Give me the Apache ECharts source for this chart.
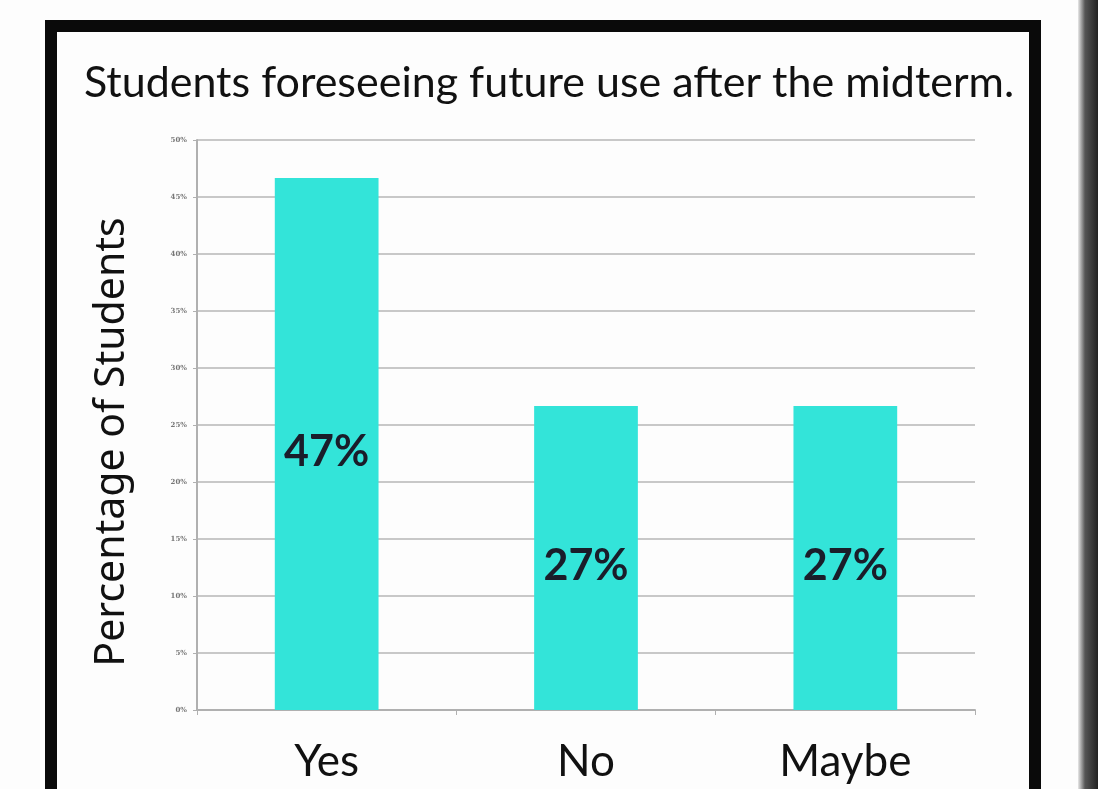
<!DOCTYPE html>
<html><head><meta charset="utf-8">
<script src="https://cdn.jsdelivr.net/npm/echarts@6/dist/echarts.min.js"></script>
<style>html,body{margin:0;padding:0;background:#fff}#c{width:1098px;height:789px}</style>
</head><body><div id="c"></div>
<script>
var categories = ['Yes', 'No', 'Maybe'];
var values = [46.67, 26.67, 26.67];
var valueLabels = ['47%', '27%', '27%'];
var titleText = 'Students foreseeing future use after the midterm.';
var yAxisName = 'Percentage of Students';

var chart = echarts.init(document.getElementById('c'), null, {renderer: 'canvas'});
chart.setOption({
  backgroundColor: '#fdfdfd',
  animation: false,
  title: {
    text: titleText, left: 'center', top: 57,
    textStyle: {fontFamily: 'Lato', fontSize: 43, fontWeight: 'normal', color: '#111'}
  },
  grid: {left: 197, right: 123, top: 140, bottom: 79},
  graphic: [
    {type: 'rect', shape: {x: 51, y: 26, width: 984, height: 800},
     style: {fill: 'none', stroke: '#0a0a0a', lineWidth: 12}, silent: true},
    {type: 'rect', shape: {x: 1078, y: 0, width: 20, height: 789},
     style: {fill: new echarts.graphic.LinearGradient(0, 0, 1, 0, [
       {offset: 0, color: '#e8e8e8'}, {offset: 0.35, color: '#555'}, {offset: 1, color: '#222'}])}, silent: true}
  ],
  xAxis: {
    type: 'category', data: categories,
    axisLine: {lineStyle: {color: '#b0b0b0', width: 2}},
    axisTick: {show: true, alignWithLabel: false, length: 5, lineStyle: {color: '#b0b0b0'}},
    axisLabel: {fontFamily: 'Lato', fontSize: 44, color: '#111', margin: 30}
  },
  yAxis: {
    type: 'value', min: 0, max: 50, interval: 5,
    name: yAxisName, nameLocation: 'middle', nameGap: 64,
    nameTextStyle: {fontFamily: 'Noto Sans', fontSize: 41, color: '#111', padding: [0, 34, 0, 0]},
    axisLine: {show: true, lineStyle: {color: '#b0b0b0', width: 2}},
    axisTick: {show: true, length: 4, lineStyle: {color: '#b0b0b0'}},
    axisLabel: {formatter: '{value}%', fontFamily: 'DejaVu Serif', fontSize: 7, fontWeight: 'bold', color: '#777', margin: 10},
    splitLine: {lineStyle: {color: '#c8c8c8', width: 2}}
  },
  series: [{
    type: 'bar', data: values, barWidth: '40%',
    itemStyle: {color: '#33e4d9'},
    label: {
      show: true, position: 'inside', offset: [0, 8],
      formatter: function (p) { return valueLabels[p.dataIndex]; },
      fontFamily: 'Lato', fontSize: 43, fontWeight: 'bold', color: '#1a1d2a'
    }
  }]
});
</script></body></html>
